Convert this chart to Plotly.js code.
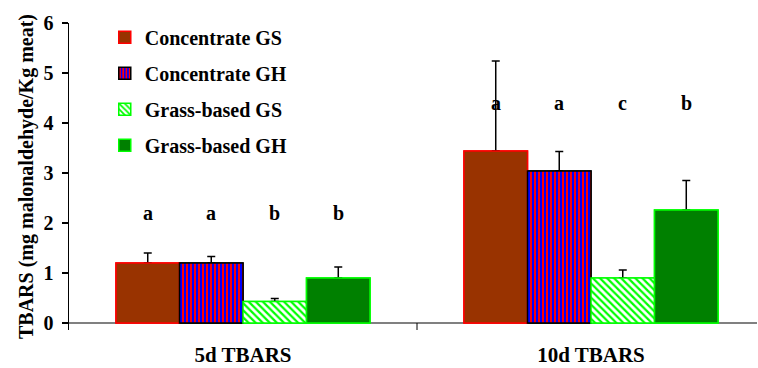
<!DOCTYPE html>
<html><head><meta charset="utf-8">
<script src="https://cdn.plot.ly/plotly-3.0.1.min.js"></script>
<style>body{margin:0;background:#fff}#c{width:758px;height:368px}</style>
</head><body><div id="c"></div>
<script>
const categories = ["5d TBARS", "10d TBARS"];
const seriesNames = ["Concentrate GS", "Concentrate GH", "Grass-based GS", "Grass-based GH"];
const concentrateGS = [1.2, 3.44];
const concentrateGH = [1.2, 3.04];
const grassGS = [0.43, 0.9];
const grassGH = [0.9, 2.26];
const errConcentrateGS = [0.2, 1.8];
const errConcentrateGH = [0.13, 0.39];
const errGrassGS = [0.06, 0.16];
const errGrassGH = [0.22, 0.59];
const letters = [["a", "a", "b", "b"], ["a", "a", "c", "b"]];
const letterY = [2.2, 4.4];

const FONT = "'Liberation Serif', 'Times New Roman', Times, serif";
const values = [concentrateGS, concentrateGH, grassGS, grassGH];
const errs = [errConcentrateGS, errConcentrateGH, errGrassGS, errGrassGH];
const styles = [
  {color: "#993300", line: {color: "#FF0000", width: 1.5}},
  {color: "#0000FF", line: {color: "#000000", width: 1.5}, pattern: {shape: "|", fgcolor: "#FF0000", bgcolor: "#0000FF", size: 4, solidity: 0.5, fillmode: "replace"}},
  {color: "#FFFFFF", line: {color: "#00FF00", width: 1.5}, pattern: {shape: "\\", fgcolor: "#00FF00", bgcolor: "#FFFFFF", size: 5, solidity: 0.45, fillmode: "replace"}},
  {color: "#008000", line: {color: "#00FF00", width: 1.5}}
];

const traces = [];
seriesNames.forEach((n, i) => {
  traces.push({
    type: "bar", name: n, x: categories, y: values[i], legendgroup: "g" + i, offsetgroup: "o" + i,
    marker: styles[i], showlegend: true,
    error_y: {type: "data", symmetric: false, array: errs[i], arrayminus: categories.map(() => 0), color: "#000", thickness: 1.5, width: 4}
  });
});
// overlay copies (hide the lower error-bar cap under the bar top)
seriesNames.forEach((n, i) => {
  traces.push({
    type: "bar", name: n, x: categories, y: values[i], legendgroup: "g" + i, offsetgroup: "o" + i,
    marker: styles[i], showlegend: false
  });
});

const barW = 0.73 / 4;
const annotations = [];
categories.forEach((c, ci) => {
  letters[ci].forEach((t, k) => {
    annotations.push({x: ci + (k - 1.5) * barW, y: letterY[ci], xref: "x", yref: "y", text: t, showarrow: false,
      font: {family: FONT, size: 20, color: "#000", weight: "bold"}});
  });
});

const layout = {
  width: 758, height: 368,
  margin: {l: 69, r: 1, t: 23, b: 38},
  paper_bgcolor: "#fff", plot_bgcolor: "#fff",
  barmode: "group", bargap: 0.27, bargroupgap: 0,
  showlegend: true,
  legend: {x: 0.052, y: 1.017, xanchor: "left", yanchor: "top", bgcolor: "rgba(0,0,0,0)",
    font: {family: FONT, size: 20, color: "#000", weight: "bold"},
    tracegroupgap: 7, traceorder: "grouped"},
  font: {family: FONT, color: "#000"},
  xaxis: {type: "category", range: [-0.5, 1.477], showline: false, ticks: "", showgrid: false, zeroline: false,
    tickfont: {family: FONT, size: 21, color: "#000", weight: "bold"}, ticklabelstandoff: 10, fixedrange: true},
  yaxis: {range: [-0.14, 6], tickvals: [0, 1, 2, 3, 4, 5, 6], showline: true, linecolor: "#000", linewidth: 1.5,
    ticks: "outside", ticklen: 6, tickwidth: 1.5, tickcolor: "#000", showgrid: false, zeroline: false,
    tickfont: {family: FONT, size: 20, color: "#000", weight: "bold"}, ticklabelstandoff: 4,
    title: {text: "TBARS (mg malonaldehyde/Kg meat)", font: {family: FONT, size: 20, color: "#000", weight: "bold"}, standoff: 4}},
  shapes: [
    {type: "line", xref: "paper", yref: "y", x0: 0, x1: 1, y0: 0, y1: 0, line: {color: "#808080", width: 2}, layer: "below"},
    {type: "line", xref: "x", yref: "y", x0: 0.5, x1: 0.5, y0: 0, y1: -0.14, line: {color: "#000", width: 1}}
  ],
  annotations: annotations
};
Plotly.newPlot("c", traces, layout, {staticPlot: true});
</script></body></html>
